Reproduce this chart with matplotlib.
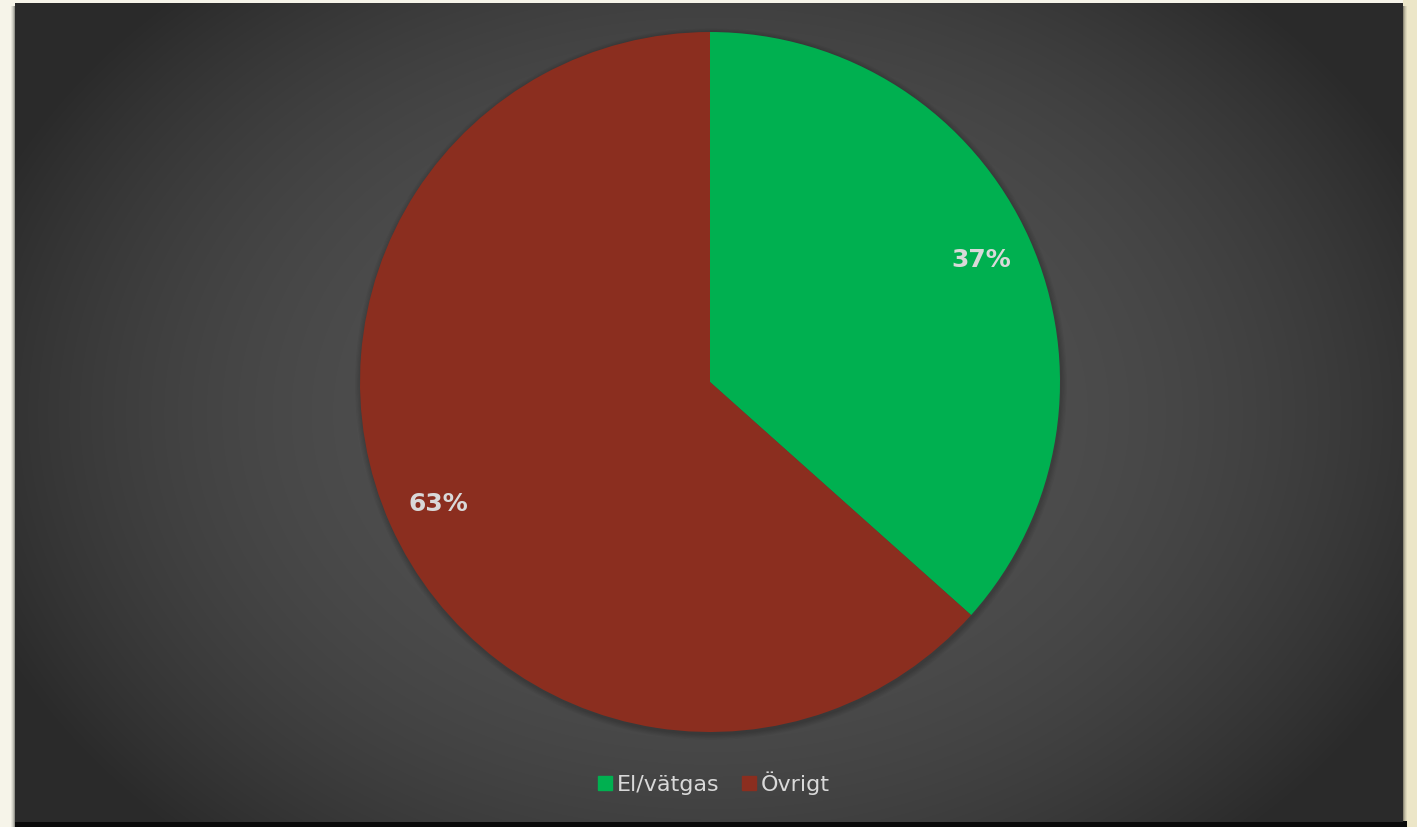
import numpy as np
import matplotlib
matplotlib.use("Agg")
import matplotlib.pyplot as plt
from matplotlib.patches import Rectangle, Circle

# data
labels = ["El/vätgas", "Övrigt"]
shares = [36.6, 63.4]
colors = ["#00b050", "#8b2e1f"]

W, H = 1417, 827
plt.rcParams["font.family"] = ["DejaVu Sans"]

fig = plt.figure(figsize=(W / 100, H / 100), dpi=100, facecolor="#f6f4e9")

# drop shadow + dark panel
sh = fig.add_axes([0, 0, 1, 1])
sh.set_xlim(0, W)
sh.set_ylim(0, H)
sh.axis("off")
sh.add_patch(Rectangle((1403, 0), 14, H, color="#ece6c8", lw=0))
for i, a in enumerate([0.06, 0.08, 0.12, 0.2]):
    off = 4 - i
    sh.add_patch(Rectangle((15 - off, 0 - off + 1), 1388 + 2 * off, 820 + off, color="black", alpha=a, lw=0))
sh.add_patch(Rectangle((15, 0), 1392, 6, color="#0a0a0a", lw=0))

# radial gradient panel
bg = fig.add_axes([15 / W, 5 / H, 1388 / W, 819 / H])
bg.axis("off")
yy, xx = np.mgrid[0:819, 0:1388]
r = np.sqrt(((xx - 695) / 780) ** 2 + ((yy - 410) / 580) ** 2)
r = np.clip(r, 0, 1)
c0, c1 = 0x52 / 255, 0x2a / 255
img = c0 + (c1 - c0) * r ** 2.4
bg.imshow(np.dstack([img, img, img]), aspect="auto", extent=(0, 1388, 0, 819))

# pie in pixel space
ax = fig.add_axes([0, 0, 1, 1])
ax.set_xlim(0, W)
ax.set_ylim(0, H)
ax.set_aspect("equal")
ax.axis("off")
cx, cy, rad = 710, H - 382, 350
for i in range(5):
    ax.add_patch(Circle((cx + 1, cy - 2), rad + 1 + i * 1.2, color="black", alpha=0.04, lw=0))

wedges, texts, autotexts = ax.pie(
    shares, colors=colors, startangle=90, counterclock=False,
    center=(cx, cy), radius=rad, autopct="%.0f%%", pctdistance=0.85,
    textprops=dict(color="#d9d9d9", fontsize=18, fontweight="bold"),
    frame=True,
)
ax.set_xlim(0, W)
ax.set_ylim(0, H)
ax.axis("off")

handles = [plt.Line2D([], [], marker="s", ls="none", color=c, markersize=10) for c in colors]
fig.legend(handles, labels, loc="center", bbox_to_anchor=(714 / W, 1 - 783 / H),
           ncol=2, frameon=False, fontsize=16, labelcolor="#d9d9d9",
           handlelength=0.6, handletextpad=0.25, columnspacing=1.0)

fig.savefig("out.png", dpi=100, facecolor=fig.get_facecolor())
